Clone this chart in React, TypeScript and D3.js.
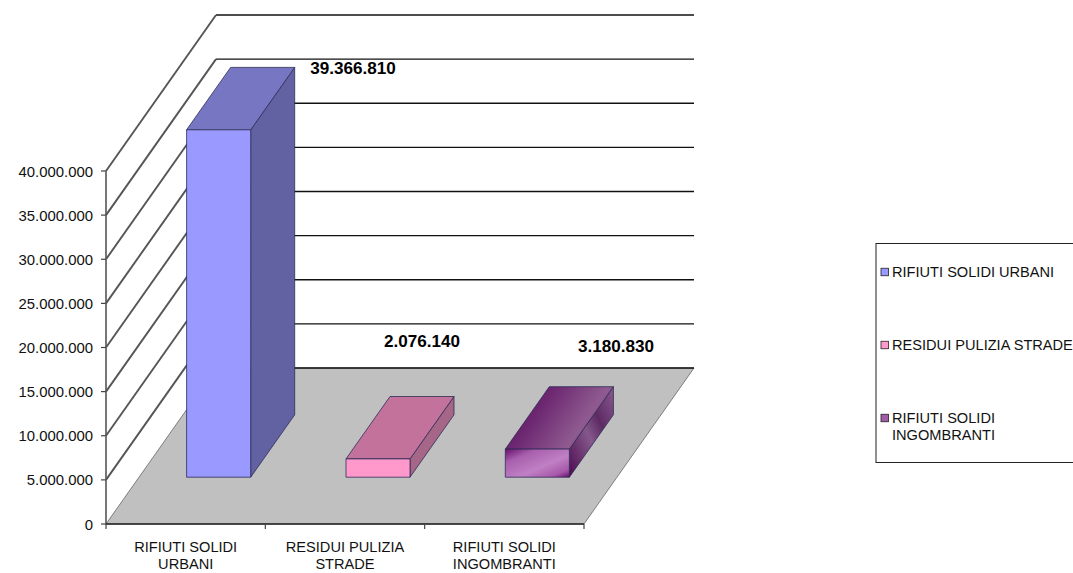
import React from "react";
import * as d3 from "d3";

const categories = [["RIFIUTI SOLIDI", "URBANI"], ["RESIDUI PULIZIA", "STRADE"], ["RIFIUTI SOLIDI", "INGOMBRANTI"]];
const values = [39366810, 2076140, 3180830];
const valueLabels = ["39.366.810", "2.076.140", "3.180.830"];
const yTicks = [0, 5000000, 10000000, 15000000, 20000000, 25000000, 30000000, 35000000, 40000000];
const yTickLabels = ["0", "5.000.000", "10.000.000", "15.000.000", "20.000.000", "25.000.000", "30.000.000", "35.000.000", "40.000.000"];
const legendLabels = [["RIFIUTI SOLIDI URBANI"], ["RESIDUI PULIZIA STRADE"], ["RIFIUTI SOLIDI", "INGOMBRANTI"]];
const frontFill = ["#9999FF", "#FF99CC", "url(#purpleFront)"];
const topFill = ["#7676C3", "#C3739B", "url(#purpleTop)"];
const sideFill = ["#6262A3", "#A66688", "url(#purpleSide)"];
const swatchFill = ["#9999FF", "#FF99CC", "#A05CA6"];
const labelAnchor: [number, number][] = [[353, 74], [422, 347], [616, 352]];
const legendY = [272, 345, 418];

const FONT = "'Liberation Sans', Arial, sans-serif";
const FS = 14.6;
const x0 = 106, x1 = 584, DX = 110, DY = 156;
const band = d3.scaleBand<number>().domain([0, 1, 2]).range([x0, x1]).paddingInner(0.598).paddingOuter(0.299);
const groups = d3.scaleBand<number>().domain([0, 1, 2]).range([x0, x1]);
const y = d3.scaleLinear().domain([0, 40000000]).range([524, 171]);
const depth = d3.scaleLinear().domain([0, 1]).range([0, 1]);
const P = (px: number, v: number, d: number): [number, number] => [px + DX * depth(d), y(v) - DY * depth(d)];
const poly = (pts: [number, number][]) => pts.map((p) => p.map((n) => n.toFixed(1)).join(",")).join(" ");
const D0 = 0.3, D1 = 0.7;

export default function App() {
  const top = y.domain()[1];
  return (
    <svg width={1073} height={573} style={{ position: "absolute", left: 0, top: 0, background: "#fff" }} fontFamily={FONT}>
      <defs>
        <linearGradient id="purpleFront" x1="0" y1="0" x2="1" y2="1">
          <stop offset="0" stopColor="#660F6C" />
          <stop offset="0.25" stopColor="#A85FAE" />
          <stop offset="0.6" stopColor="#C080C4" />
          <stop offset="0.85" stopColor="#A858AA" />
          <stop offset="1" stopColor="#660F6C" />
        </linearGradient>
        <linearGradient id="purpleTop" x1="0" y1="0.2" x2="1" y2="0.6">
          <stop offset="0" stopColor="#5C0A60" />
          <stop offset="0.35" stopColor="#6E2A72" />
          <stop offset="0.75" stopColor="#8F5A90" />
          <stop offset="1" stopColor="#885088" />
        </linearGradient>
        <linearGradient id="purpleSide" x1="0" y1="1" x2="1" y2="0">
          <stop offset="0" stopColor="#4C0A50" />
          <stop offset="0.45" stopColor="#84588A" />
          <stop offset="0.65" stopColor="#5E2A64" />
          <stop offset="1" stopColor="#8A5A90" />
        </linearGradient>
      </defs>

      <polygon points={poly([P(x0, 0, 0), P(x0, 0, 1), P(x1, 0, 1), P(x1, 0, 0)])} fill="#C0C0C0" stroke="#555" strokeWidth={0.7} />

      {yTicks.map((t) => (
        <g key={t}>
          <line x1={P(x0, t, 1)[0]} y1={P(x0, t, 1)[1]} x2={P(x1, t, 1)[0]} y2={P(x1, t, 1)[1]} stroke="#111" strokeWidth={1.4} />
          {t > 0 && <line x1={x0} y1={y(t)} x2={x0 + DX} y2={y(t) - DY} stroke="#555" strokeWidth={1.9} />}
          <line x1={x0 - 5} x2={x0} y1={y(t)} y2={y(t)} stroke="#444" strokeWidth={1.2} />
        </g>
      ))}
      <line x1={x0} x2={x0} y1={y(0)} y2={y(top)} stroke="#555" strokeWidth={1.6} />
      <line x1={x0} x2={x1} y1={y(0)} y2={y(0)} stroke="#222" strokeWidth={1.4} />
      {[0, 1, 2].map((i) => (
        <line key={i} x1={groups(i)!} x2={groups(i)!} y1={y(0)} y2={y(0) + 5} stroke="#444" strokeWidth={1.2} />
      ))}
      <line x1={x1} x2={x1} y1={y(0)} y2={y(0) + 5} stroke="#444" strokeWidth={1.2} />

      {values.map((v, i) => {
        const l = band(i)!;
        const r = l + band.bandwidth();
        return (
          <g key={i} stroke="#2c2c55" strokeWidth={0.8} strokeLinejoin="round">
            <polygon points={poly([P(r, 0, D0), P(r, 0, D1), P(r, v, D1), P(r, v, D0)])} fill={sideFill[i]} />
            <polygon points={poly([P(l, v, D0), P(l, v, D1), P(r, v, D1), P(r, v, D0)])} fill={topFill[i]} />
            <polygon points={poly([P(l, 0, D0), P(r, 0, D0), P(r, v, D0), P(l, v, D0)])} fill={frontFill[i]} />
          </g>
        );
      })}

      {yTicks.map((t, i) => (
        <text key={t} x={x0 - 13} y={y(t) + 5.5} textAnchor="end" fontSize={14.9} fill="#111">{yTickLabels[i]}</text>
      ))}
      {categories.map((lines, i) => lines.map((s, j) => (
        <text key={s} x={groups(i)! + groups.bandwidth() / 2} y={552 + j * 17} textAnchor="middle" fontSize={FS} fill="#111">{s}</text>
      )))}
      {valueLabels.map((s, i) => (
        <text key={s} x={labelAnchor[i][0]} y={labelAnchor[i][1]} textAnchor="middle" fontSize={17.1} fontWeight="bold" fill="#000">{s}</text>
      ))}

      <rect x={876} y={243.5} width={230} height={219} fill="#fff" stroke="#222" strokeWidth={1} />
      {legendLabels.map((lines, i) => (
        <g key={i}>
          <rect x={881} y={legendY[i] - 3.75} width={7.5} height={7.5} fill={swatchFill[i]} stroke="#222" strokeWidth={0.8} />
          {lines.map((s, j) => (
            <text key={s} x={892} y={legendY[i] + 5 + j * 17} fontSize={FS} fill="#111">{s}</text>
          ))}
        </g>
      ))}
    </svg>
  );
}
